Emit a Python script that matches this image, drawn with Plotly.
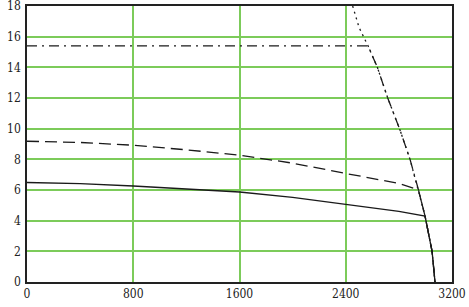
import plotly.graph_objects as go

# limiting curve (steep right-hand boundary)
limit_x = [2452, 2500, 2568, 2638, 2716, 2809, 2884, 2947, 2997, 3050, 3072]
limit_y = [18.0, 16.6, 15.4, 14.0, 12.0, 9.9, 8.0, 6.02, 4.3, 2.0, 0.0]

# solid curve
solid_x = [0, 400, 800, 1200, 1600, 2000, 2400, 2800, 2997]
solid_y = [6.49, 6.42, 6.26, 6.08, 5.87, 5.52, 5.07, 4.6, 4.3]

# dashed curve
dash_x = [0, 400, 800, 1200, 1600, 2000, 2400, 2800, 2947]
dash_y = [9.18, 9.1, 8.92, 8.62, 8.27, 7.75, 7.08, 6.43, 6.02]

# dash-dot horizontal level
dd_x = [0, 2568]
dd_y = [15.4, 15.4]

x_ticks = [0, 800, 1600, 2400, 3200]
y_ticks = [0, 2, 4, 6, 8, 10, 12, 14, 16, 18]


def tail(x0, y0):
    xs, ys = [], []
    for lx, ly in zip(limit_x, limit_y):
        if ly < y0:
            xs.append(lx)
            ys.append(ly)
    return xs, ys


lc = "#1a1a1a"
fig = go.Figure()

tx, ty = tail(solid_x[-1], solid_y[-1])
fig.add_trace(go.Scatter(x=solid_x + tx, y=solid_y + ty, mode="lines",
                         line=dict(color=lc, width=1.3)))
tx, ty = tail(dash_x[-1], dash_y[-1])
fig.add_trace(go.Scatter(x=dash_x + tx, y=dash_y + ty, mode="lines",
                         line=dict(color=lc, width=1.3, dash="12px,6px")))
tx, ty = tail(dd_x[-1], dd_y[-1])
fig.add_trace(go.Scatter(x=dd_x + tx, y=dd_y + ty, mode="lines",
                         line=dict(color=lc, width=1.3, dash="10px,5px,2px,5px")))
fig.add_trace(go.Scatter(x=limit_x, y=limit_y, mode="lines",
                         line=dict(color=lc, width=1.3, dash="2px,4px")))

grid = "#7ccb5a"
font = dict(family="DejaVu Serif Condensed", size=12, color="#222")
fig.update_layout(
    width=469, height=307,
    margin=dict(l=27, r=17, t=6, b=25),
    paper_bgcolor="white", plot_bgcolor="white",
    showlegend=False,
    xaxis=dict(range=[0, 3200], tickvals=x_ticks, showgrid=True, gridcolor=grid,
               gridwidth=1.5, zeroline=False, showline=True, linecolor="#222",
               linewidth=1.5, mirror=True, ticks="", tickfont=font, automargin=False,
               ticklabeloverflow="allow"),
    yaxis=dict(range=[0, 18], tickvals=y_ticks, showgrid=True, gridcolor=grid,
               gridwidth=1.5, zeroline=False, showline=True, linecolor="#222",
               linewidth=1.5, mirror=True, ticks="", tickfont=font, automargin=False,
               ticklabelstandoff=2, ticklabeloverflow="allow"),
)

fig.write_html("out.html")
